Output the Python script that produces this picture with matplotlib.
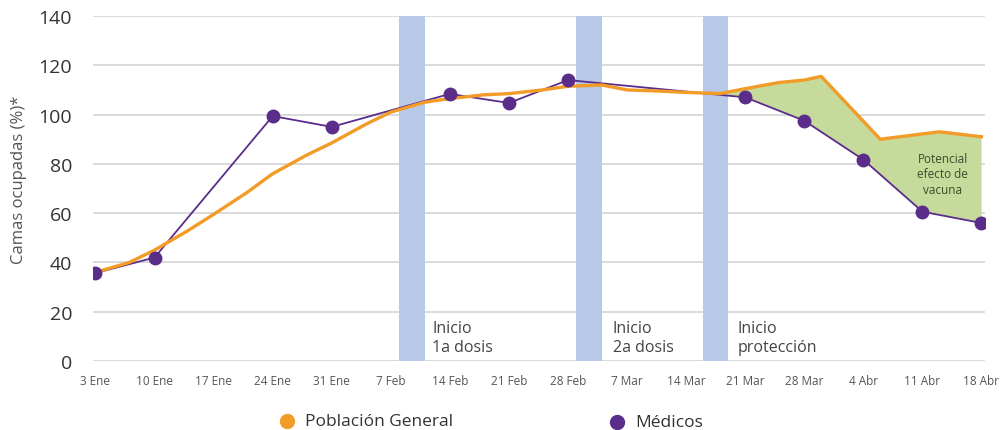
import numpy as np
import matplotlib
matplotlib.use("Agg")
import matplotlib.pyplot as plt
from matplotlib.lines import Line2D

plt.rcParams['font.family'] = ['Open Sans', 'DejaVu Sans']

# ---- data (x = days since 3 Ene) ----
tick_days = [0, 7, 14, 21, 28, 35, 42, 49, 56, 63, 70, 77, 84, 91, 98, 105]
tick_labels = ["3 Ene", "10 Ene", "17 Ene", "24 Ene", "31 Ene", "7 Feb", "14 Feb",
               "21 Feb", "28 Feb", "7 Mar", "14 Mar", "21 Mar", "28 Mar",
               "4 Abr", "11 Abr", "18 Abr"]

general_days = [0, 4, 7, 11, 14, 18, 21, 25, 28, 32, 35, 39, 42, 46, 49, 53, 56, 60,
                63, 67, 70, 74, 77, 81, 84, 86, 93, 100, 105]
general_vals = [36, 40, 45, 53, 59.5, 68.5, 76, 83.5, 88.5, 96, 101, 105, 106.5, 108,
                108.5, 110, 111.5, 112, 110, 109.5, 109, 108.5, 110.5, 113, 114, 115.5,
                90, 93, 91]

medicos_days = [0, 7, 21, 28, 42, 49, 56, 77, 84, 91, 98, 105]
medicos_vals = [35.7, 42, 99.4, 95, 108.4, 104.7, 114, 107, 97.5, 81.7, 60.6, 56]

band_start = [36, 57, 72]
band_end = [39, 60, 75]
band_labels = ["Inicio\n1a dosis", "Inicio\n2a dosis", "Inicio\nprotección"]
band_label_days = [39.9, 61.3, 76.1]

effect_start_day = 74
effect_label = "Potencial\nefecto de\nvacuna"

c_orange = "#f29b26"
c_purple = "#5a2d8a"
c_band = "#b7c9e6"
c_green = "#c6da9c"

fig = plt.figure(figsize=(10.06, 4.31), dpi=100)
ax = fig.add_axes([0.0924, 0.160, 0.8866, 0.8006])

ax.set_xlim(-0.3, 105.4)
ax.set_ylim(0, 140)
ax.set_yticks(np.arange(0, 141, 20))
ax.grid(axis='y', color='#d4d4d4', lw=1.2, zorder=0)
ax.set_axisbelow(True)
for s in ax.spines.values():
    s.set_visible(False)

for s0, s1 in zip(band_start, band_end):
    ax.axvspan(s0, s1, color=c_band, lw=0, zorder=1)

gd = np.array(general_days, dtype=float)
gv = np.array(general_vals, dtype=float)
md = np.array(medicos_days, dtype=float)
mv = np.array(medicos_vals, dtype=float)

# green area between the two series (from divergence)
g_mask = gd >= effect_start_day
m_mask = md >= 77
poly_x = np.concatenate([gd[g_mask], md[m_mask][::-1]])
poly_y = np.concatenate([gv[g_mask], mv[m_mask][::-1]])
ax.fill(poly_x, poly_y, color=c_green, lw=0, zorder=2)

ax.plot(md, mv, color=c_purple, lw=1.3, zorder=3)
ax.plot(gd, gv, color=c_orange, lw=2.4, zorder=4)
ax.plot(md, mv, ls='none', marker='o', ms=9, color=c_purple, zorder=5)

for d, t in zip(band_label_days, band_labels):
    ax.text(d, 2.5, t, fontsize=11.5, color='#444444', ha='left', va='bottom',
            linespacing=1.2, zorder=6)

ax.text(100.4, 76, effect_label, fontsize=8.5, color='#3c4a2a', ha='center',
        va='center', linespacing=1.25, zorder=6)

ax.set_xticks(tick_days)
ax.set_xticklabels(tick_labels, fontsize=8.5, color='#555555')
ax.tick_params(axis='x', length=0, pad=9)
ax.tick_params(axis='y', length=0, pad=15, labelsize=14, labelcolor='#333333')

fig.text(19 / 1006, 1 - 180 / 431, "Camas ocupadas (%)*", rotation=90,
         fontsize=12, color='#555555', ha='center', va='center')

# legend
fig.add_artist(Line2D([287 / 1006], [1 - 422 / 431], marker='o', ms=10,
                      color=c_orange, transform=fig.transFigure))
fig.text(305 / 1006, 1 - 422 / 431, "Población General", fontsize=12.5,
         color='#333333', ha='left', va='center')
fig.add_artist(Line2D([617 / 1006], [1 - 423 / 431], marker='o', ms=10,
                      color=c_purple, transform=fig.transFigure))
fig.text(635 / 1006, 1 - 423 / 431, "Médicos", fontsize=12.5,
         color='#333333', ha='left', va='center')

fig.savefig("out.png", dpi=100)
